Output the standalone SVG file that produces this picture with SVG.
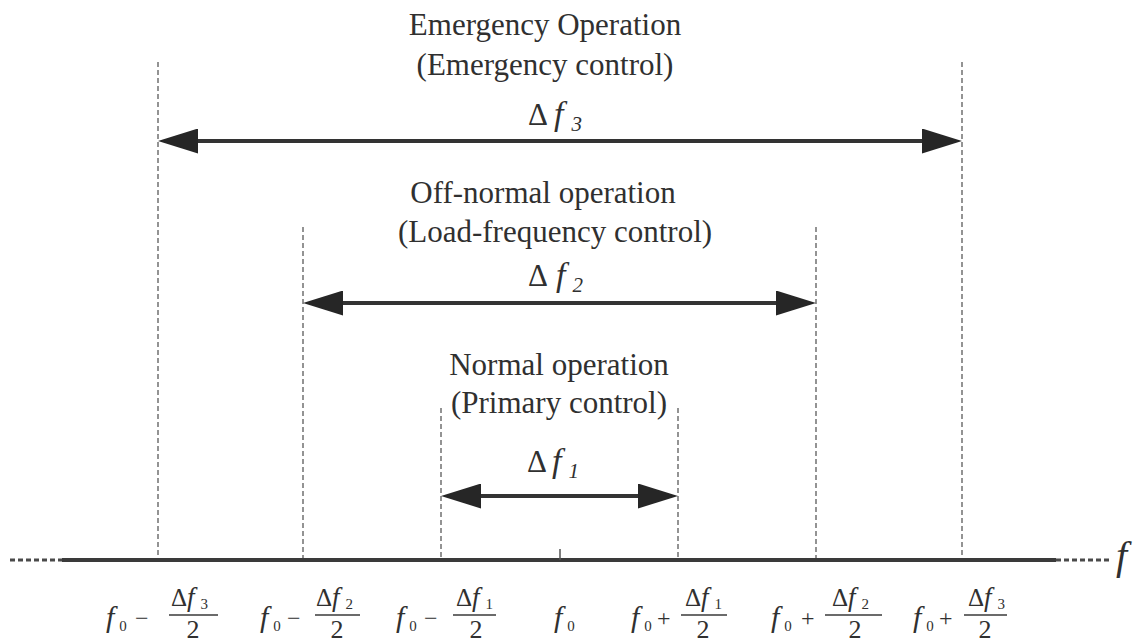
<svg xmlns="http://www.w3.org/2000/svg" width="1136" height="642" viewBox="0 0 1136 642">
  <defs>
    <style>
      .lbl { font-family: "Liberation Serif", "Times New Roman", serif; font-size: 31px; fill: #303030; text-anchor: middle; }
      .dl { font-family: "Liberation Serif", "Times New Roman", serif; font-size: 31px; fill: #303030; }
      .it { font-style: italic; }
      .ax { font-family: "Liberation Serif", "Times New Roman", serif; fill: #303030; }
      .guide { stroke: #707070; stroke-width: 1.5; stroke-dasharray: 5 3; fill: none; }
      .span { stroke: #333; stroke-width: 4; fill: none; marker-start: url(#head); marker-end: url(#head); }
      .axis { stroke: #3a3a3a; stroke-width: 4; fill: none; }
      .axisdot { stroke: #4a4a4a; stroke-width: 3; stroke-dasharray: 5 3; fill: none; }
      .bar { stroke: #3a3a3a; stroke-width: 1.5; }
    </style>
    <marker id="head" markerUnits="userSpaceOnUse" markerWidth="40" markerHeight="25" refX="2" refY="12.5" orient="auto-start-reverse">
      <path d="M0,0 L40,12.5 L0,25 Z" fill="#262626"/>
    </marker>
  </defs>

  <rect width="1136" height="642" fill="#ffffff"/>

  <!-- frequency axis -->
  <g id="axis">
    <line class="axisdot" x1="10" y1="560" x2="64" y2="560"/>
    <line class="axis" x1="62" y1="560" x2="1056" y2="560"/>
    <line class="axisdot" x1="1056" y1="560" x2="1112" y2="560"/>
    <line stroke="#555" stroke-width="1.5" x1="560" y1="549" x2="560" y2="560"/>
    <text class="ax it" x="1116" y="569" font-size="40">f</text>
  </g>

  <!-- band limits and range arrows -->
  <g id="connectors">
    <line class="guide" x1="158" y1="62" x2="158" y2="558"/>
    <line class="guide" x1="962" y1="62" x2="962" y2="558"/>
    <line class="guide" x1="303" y1="227" x2="303" y2="558"/>
    <line class="guide" x1="816" y1="227" x2="816" y2="558"/>
    <line class="guide" x1="441" y1="408" x2="441" y2="558"/>
    <line class="guide" x1="678" y1="408" x2="678" y2="558"/>

    <line class="span" x1="196" y1="141" x2="924" y2="141"/>
    <line class="span" x1="341" y1="303" x2="778" y2="303"/>
    <line class="span" x1="479" y1="496" x2="640" y2="496"/>
  </g>

  <!-- emergency band -->
  <g id="emergency">
    <text class="lbl" x="545" y="35">Emergency Operation</text>
    <text class="lbl" x="545" y="75">(Emergency control)</text>
    <text class="dl" x="528" y="125">Δ<tspan class="it" font-size="34" dx="6">f</tspan><tspan class="it" font-size="21" dx="8" dy="6">3</tspan></text>
  </g>

  <!-- off-normal band -->
  <g id="off-normal">
    <text class="lbl" x="543" y="203">Off-normal operation</text>
    <text class="lbl" x="555" y="242">(Load-frequency control)</text>
    <text class="dl" x="528" y="286">Δ<tspan class="it" font-size="34" dx="8">f</tspan><tspan class="it" font-size="21" dx="7" dy="6">2</tspan></text>
  </g>

  <!-- normal band -->
  <g id="normal">
    <text class="lbl" x="559" y="375">Normal operation</text>
    <text class="lbl" x="559" y="413">(Primary control)</text>
    <text class="dl" x="527" y="472">Δ<tspan class="it" font-size="34" dx="5">f</tspan><tspan class="it" font-size="21" dx="7" dy="6">1</tspan></text>
  </g>

  <!-- axis tick labels -->
  <g id="tick-minus3">
    <text class="ax" x="106" y="627" font-size="30"><tspan class="it">f</tspan><tspan font-size="15" dx="5" dy="4">0</tspan></text>
    <text class="ax" x="135" y="626" font-size="24">−</text>
    <line class="bar" x1="169" y1="615" x2="218" y2="615"/>
    <text class="ax" x="171" y="606" font-size="25">Δ<tspan class="it" font-size="27">f</tspan><tspan font-size="15" dx="6" dy="3">3</tspan></text>
    <text class="ax" x="193" y="638" font-size="26" text-anchor="middle">2</text>
  </g>

  <g id="tick-minus2">
    <text class="ax" x="260" y="627" font-size="30"><tspan class="it">f</tspan><tspan font-size="15" dx="5" dy="4">0</tspan></text>
    <text class="ax" x="287" y="626" font-size="24">−</text>
    <line class="bar" x1="315" y1="615" x2="360" y2="615"/>
    <text class="ax" x="316" y="606" font-size="25">Δ<tspan class="it" font-size="27">f</tspan><tspan font-size="15" dx="6" dy="3">2</tspan></text>
    <text class="ax" x="337" y="638" font-size="26" text-anchor="middle">2</text>
  </g>

  <g id="tick-minus1">
    <text class="ax" x="396" y="627" font-size="30"><tspan class="it">f</tspan><tspan font-size="15" dx="5" dy="4">0</tspan></text>
    <text class="ax" x="424" y="626" font-size="24">−</text>
    <line class="bar" x1="453" y1="615" x2="496" y2="615"/>
    <text class="ax" x="456" y="606" font-size="25">Δ<tspan class="it" font-size="27">f</tspan><tspan font-size="15" dx="6" dy="3">1</tspan></text>
    <text class="ax" x="476" y="638" font-size="26" text-anchor="middle">2</text>
  </g>

  <g id="tick-center">
    <text class="ax" x="554" y="627" font-size="30"><tspan class="it">f</tspan><tspan font-size="15" dx="5" dy="4">0</tspan></text>
  </g>

  <g id="tick-plus1">
    <text class="ax" x="631" y="627" font-size="30"><tspan class="it">f</tspan><tspan font-size="15" dx="5" dy="4">0</tspan></text>
    <text class="ax" x="657" y="626" font-size="24">+</text>
    <line class="bar" x1="681" y1="615" x2="727" y2="615"/>
    <text class="ax" x="685" y="606" font-size="25">Δ<tspan class="it" font-size="27">f</tspan><tspan font-size="15" dx="6" dy="3">1</tspan></text>
    <text class="ax" x="703" y="638" font-size="26" text-anchor="middle">2</text>
  </g>

  <g id="tick-plus2">
    <text class="ax" x="771" y="627" font-size="30"><tspan class="it">f</tspan><tspan font-size="15" dx="5" dy="4">0</tspan></text>
    <text class="ax" x="801" y="626" font-size="24">+</text>
    <line class="bar" x1="825" y1="615" x2="882" y2="615"/>
    <text class="ax" x="832" y="606" font-size="25">Δ<tspan class="it" font-size="27">f</tspan><tspan font-size="15" dx="6" dy="3">2</tspan></text>
    <text class="ax" x="855" y="638" font-size="26" text-anchor="middle">2</text>
  </g>

  <g id="tick-plus3">
    <text class="ax" x="913" y="627" font-size="30"><tspan class="it">f</tspan><tspan font-size="15" dx="5" dy="4">0</tspan></text>
    <text class="ax" x="939" y="626" font-size="24">+</text>
    <line class="bar" x1="964" y1="615" x2="1007" y2="615"/>
    <text class="ax" x="968" y="606" font-size="25">Δ<tspan class="it" font-size="27">f</tspan><tspan font-size="15" dx="6" dy="3">3</tspan></text>
    <text class="ax" x="985" y="638" font-size="26" text-anchor="middle">2</text>
  </g>
</svg>
